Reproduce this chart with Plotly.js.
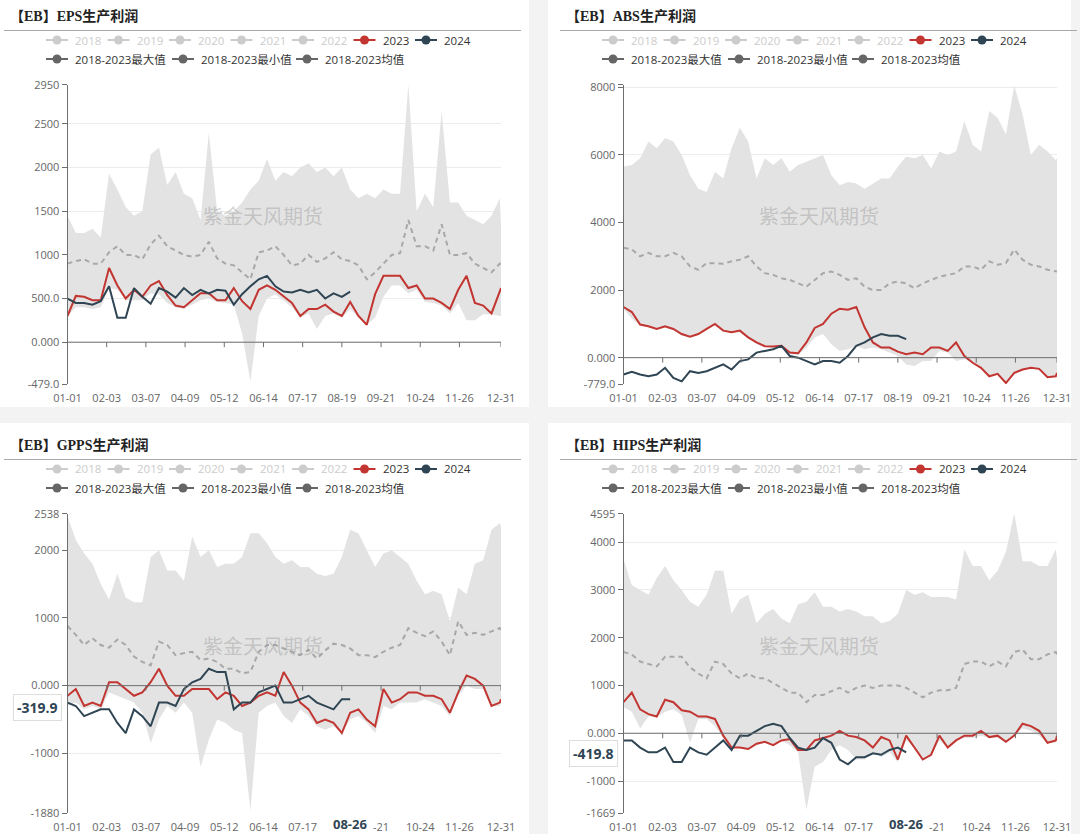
<!DOCTYPE html>
<html><head><meta charset="utf-8">
<script src="https://cdn.plot.ly/plotly-3.0.1.min.js"></script>
<style>html,body{margin:0;padding:0;background:#f3f3f3;}#chart{width:1080px;height:834px;}</style>
</head><body><div id="chart"></div>
<script>
// ---------- categories ----------
const dates = ['01-01','01-08','01-15','01-22','01-29','02-05','02-12','02-19','02-26','03-04',
 '03-11','03-18','03-25','04-01','04-08','04-15','04-22','04-29','05-06','05-13',
 '05-20','05-27','06-03','06-10','06-17','06-24','07-01','07-08','07-15','07-22',
 '07-29','08-05','08-12','08-19','08-26','09-02','09-09','09-16','09-23','09-30',
 '10-07','10-14','10-21','10-28','11-04','11-11','11-18','11-25','12-02','12-09',
 '12-16','12-23','12-30','12-31'];
const tickDates = ['01-01','02-03','03-07','04-09','05-12','06-14','07-17','08-19','09-21','10-24','11-26','12-31'];
// bottom panels: the 08-26 pointer label hides 08-19 and the start of 09-21
const tickTextTop = ['01-01','02-03','03-07','04-09','05-12','06-14','07-17','08-19','09-21','10-24','11-26','12-31'];
const tickTextBottom = ['01-01','02-03','03-07','04-09','05-12','06-14','07-17','','-21','10-24','11-26','12-31'];
const panelTitles = ['【EB】EPS生产利润','【EB】ABS生产利润','【EB】GPPS生产利润','【EB】HIPS生产利润'];
const legendYears = ['2018','2019','2020','2021','2022','2023','2024'];
const legendStats = ['2018-2023最大值','2018-2023最小值','2018-2023均值'];
const watermark = '紫金天风期货';
const pointerDate = '08-26';
const gppsPointer = -319.9;
const hipsPointer = -419.8;

// ---------- EPS ----------
const epsMax = [1450,1250,1250,1300,1200,1930,1750,1550,1450,1500,
 2150,2230,1800,1950,1700,1650,1400,2400,1500,1450,
 1500,1600,1750,1850,2100,1850,1950,1900,2000,2050,
 1950,2000,1900,2000,1750,1650,1700,1650,1750,1700,
 1700,2950,1500,1700,1550,2650,1600,1600,1450,1400,
 1350,1450,1650,1350];
const epsMin = [300,400,400,380,400,620,600,480,480,480,
 560,550,450,400,380,430,480,500,460,450,
 430,100,-450,300,500,550,480,400,280,330,
 150,300,330,280,380,280,200,280,520,650,
 650,560,600,460,450,420,330,450,250,250,
 320,320,300,300];
const epsMean = [900,930,950,900,900,1030,1100,1000,1000,950,
 1120,1220,1100,1050,1000,980,1000,1150,960,900,
 880,800,720,1030,1050,1100,1000,880,900,1000,
 920,960,1030,950,930,880,720,800,900,1000,
 1020,1400,1100,1100,1050,1350,1000,1000,1020,900,
 850,800,900,880];
const eps2023 = [300,530,520,480,480,850,650,500,600,520,
 650,700,540,420,400,480,560,560,480,480,
 620,470,380,600,650,600,520,450,300,380,
 380,430,350,300,460,300,200,550,760,760,
 760,620,650,500,500,450,380,600,760,450,
 420,330,600,620];
const eps2024 = [500,450,450,430,470,640,280,280,620,520,
 440,620,580,510,620,540,600,560,600,590,
 430,550,640,720,760,640,580,570,600,570,
 600,500,560,520,580];
const epsRange = [-479, 2950];
const epsTickVals = [-479, 0, 500, 1000, 1500, 2000, 2500, 2950];
const epsTickText = ['-479.0','0.000','500.0','1000','1500','2000','2500','2950'];

// ---------- ABS ----------
const absMax = [5650,5700,5900,6400,6200,6500,6400,6000,5400,5000,
 4900,5500,5300,6200,6800,6400,5300,5900,5700,5900,
 5500,5700,5800,5900,6000,5400,5100,5200,5150,5000,
 5150,5300,5300,5650,5950,5900,6000,5600,6100,6000,
 6100,7000,6300,6100,7300,7100,6600,8050,7200,6000,
 6300,6100,5850,5900];
const absMin = [1450,1150,950,900,830,880,820,650,600,680,
 820,950,780,730,750,560,400,320,300,300,
 100,80,300,600,700,400,200,250,350,250,
 300,250,150,50,-200,-250,-100,-100,200,150,
 -100,-50,-150,-300,-550,-500,-750,-500,-380,-320,
 -350,-600,-560,-480];
const absMean = [3250,3200,3000,3100,3000,3000,3100,3000,2700,2600,
 2800,2800,2780,2850,2900,3000,2700,2500,2450,2350,
 2300,2200,2100,2300,2500,2550,2450,2300,2350,2100,
 2000,2000,2200,2250,2200,2050,2200,2300,2400,2450,
 2500,2700,2700,2600,2850,2750,2800,3200,2900,2750,
 2700,2600,2550,2550];
const abs2023 = [1500,1350,980,930,850,930,850,700,620,700,
 850,1000,800,750,800,600,450,340,330,350,
 150,130,450,880,1000,1300,1450,1420,1500,900,
 450,300,300,180,100,150,100,300,300,200,
 450,50,-150,-300,-550,-480,-750,-450,-350,-300,
 -330,-580,-550,-450];
const abs2024 = [-500,-420,-500,-550,-500,-300,-600,-700,-400,-450,
 -400,-300,-200,-350,-100,-50,150,200,250,350,
 50,0,-100,-200,-100,-100,-150,50,350,450,
 600,700,650,650,550];
const absRange = [-779, 8077];
const absTickVals = [-779, 0, 2000, 4000, 6000, 8000, 8077];
const absTickText = ['-779.0','0.000','2000','4000','6000','8000',''];

// ---------- GPPS ----------
const gppsMax = [2500,2150,1950,1800,1500,1270,1650,1300,1230,1230,
 1900,2000,1700,1700,1550,2200,1900,2000,1750,1800,
 1800,1900,2250,2250,2100,1900,1800,1850,1750,1750,
 1650,1620,1650,1900,2300,2250,2000,1750,1950,2000,
 1900,1800,1550,1350,1400,1350,950,1450,1350,1800,
 1850,2300,2400,2350];
const gppsMin = [-300,-250,-350,-300,-350,-100,-150,-200,-250,-400,
 -850,-500,-300,-400,-250,-400,-1200,-800,-500,-550,
 -650,-700,-1850,-400,-300,-250,-450,-550,-350,-450,
 -600,-650,-600,-700,-500,-450,-550,-700,-300,-350,
 -250,-250,-250,-200,-250,-300,-450,-150,0,-50,
 -50,-300,-300,-250];
const gppsMean = [880,750,600,700,600,560,680,600,430,350,
 300,650,600,450,480,500,380,400,350,250,
 250,180,200,500,600,600,550,500,450,530,
 400,520,620,600,550,450,450,420,500,560,
 600,850,780,730,800,650,450,950,750,780,
 750,800,850,820];
const gpps2023 = [-150,-50,-300,-250,-300,50,50,-50,-150,-100,
 50,250,0,-150,-150,-50,-50,-50,-200,-100,
 -150,-300,-250,-150,-100,-150,200,0,-250,-350,
 -550,-500,-550,-700,-400,-350,-500,-600,-50,-250,
 -200,-100,-100,-150,-150,-200,-400,-100,150,100,
 0,-300,-250,-200];
const gpps2024 = [-250,-300,-450,-400,-350,-350,-550,-700,-350,-450,
 -600,-250,-250,-300,-50,50,100,250,200,200,
 -350,-250,-250,-100,-50,0,-250,-250,-200,-150,
 -250,-300,-350,-200,-200];
const gppsRange = [-1880, 2538];
const gppsTickVals = [-1880, -1000, 0, 1000, 2000, 2538];
const gppsTickText = ['-1880','-1000','0.000','1000','2000','2538'];

// ---------- HIPS ----------
const hipsMax = [3650,3100,3000,2900,3250,3500,3200,3000,2750,2650,
 2900,3400,3400,2500,2800,2900,2300,2500,2600,2400,
 2300,2700,2750,2950,2650,2650,2550,2600,2550,2450,
 2450,2300,2350,2500,3000,2900,2950,2850,2850,2850,
 2800,3850,3500,3500,3200,3400,3800,4600,3600,3600,
 3500,3500,3850,3650];
const hipsMin = [550,450,100,350,330,450,500,380,-200,300,
 300,150,-100,-300,-300,-350,-250,-200,-250,-150,
 -250,-400,-1600,-700,-600,-350,-250,-350,-550,-550,
 -400,-500,-400,-600,-150,-300,-550,-450,-150,-300,
 -150,-100,-100,-50,-100,-100,-200,-50,100,50,
 -50,-200,-200,-50];
const hipsMean = [1700,1650,1500,1450,1400,1600,1600,1600,1380,1250,
 1150,1500,1450,1250,1150,1250,1150,1150,1050,950,
 850,850,650,800,800,880,950,850,950,1000,
 950,1000,1000,1000,950,850,750,850,900,900,
 950,1450,1500,1500,1400,1500,1400,1700,1750,1550,
 1550,1650,1700,1650];
const hips2023 = [650,850,500,400,350,700,650,480,450,350,
 350,300,-50,-300,-300,-330,-220,-180,-250,-150,
 -120,-350,-350,-150,-100,-50,50,-50,-80,-150,
 -300,-80,-150,-550,-50,-300,-550,-450,-50,-300,
 -150,-50,-50,50,-80,-50,-180,-50,200,150,
 50,-200,-150,-50];
const hips2024 = [-150,-150,-300,-400,-400,-300,-600,-600,-300,-400,
 -450,-300,-150,-350,-50,-50,50,150,200,150,
 -100,-300,-350,-300,-100,-200,-550,-650,-500,-500,
 -420,-450,-350,-300,-400];
const hipsRange = [-1669, 4595];
const hipsTickVals = [-1669, -1000, 0, 1000, 2000, 3000, 4000, 4595];
const hipsTickText = ['-1669','-1000','0.000','1000','2000','3000','4000','4595'];

// ---------- build ----------
const W = 1080, H = 834;
const fx = p => p / W;
const fy = p => 1 - p / H;
const YEAR = '2024-';
const xs = dates.map(d => YEAR + d);
const tickX = tickDates.map(d => YEAR + d);

const C_RED = '#c23531', C_BLUE = '#2f4554', C_BAND = '#e3e3e3', C_MEAN = '#a8a8a8';
const AXIS = '#6e6e6e';
const FONT = "'Open Sans', 'Noto Sans CJK SC', sans-serif";

const panels = [
  {title: panelTitles[0], mx: epsMax, mn: epsMin, mean: epsMean, y23: eps2023, y24: eps2024, range: epsRange, tv: epsTickVals, tt: epsTickText, xt: tickTextTop, dx: 0, dy: 0, pointer: null, rect: [0, 0, 529, 407]},
  {title: panelTitles[1], mx: absMax, mn: absMin, mean: absMean, y23: abs2023, y24: abs2024, range: absRange, tv: absTickVals, tt: absTickText, xt: tickTextTop, dx: 556, dy: 0, pointer: null, rect: [548, 0, 1071, 407]},
  {title: panelTitles[2], mx: gppsMax, mn: gppsMin, mean: gppsMean, y23: gpps2023, y24: gpps2024, range: gppsRange, tv: gppsTickVals, tt: gppsTickText, xt: tickTextBottom, dx: 0, dy: 429, pointer: gppsPointer, rect: [0, 423, 529, 834]},
  {title: panelTitles[3], mx: hipsMax, mn: hipsMin, mean: hipsMean, y23: hips2023, y24: hips2024, range: hipsRange, tv: hipsTickVals, tt: hipsTickText, xt: tickTextBottom, dx: 556, dy: 429, pointer: hipsPointer, rect: [548, 423, 1071, 834]}
];

const traces = [], shapes = [], annotations = [];
const layout = {
  width: W, height: H, margin: {l: 0, r: 0, t: 0, b: 0},
  paper_bgcolor: '#f3f3f3', plot_bgcolor: 'rgba(0,0,0,0)',
  showlegend: false, font: {family: FONT, size: 11, color: '#666'},
  shapes, annotations
};

panels.forEach((p, i) => {
  const sfx = i === 0 ? '' : String(i + 1);
  const xa = 'x' + sfx, ya = 'y' + sfx;
  const {dx, dy} = p;

  // white panel background
  shapes.push({type: 'rect', xref: 'paper', yref: 'paper', layer: 'below',
    x0: fx(p.rect[0]), x1: fx(p.rect[2]), y0: fy(p.rect[3]), y1: fy(p.rect[1]),
    fillcolor: '#ffffff', line: {width: 0}});
  // title underline
  shapes.push({type: 'line', xref: 'paper', yref: 'paper',
    x0: fx(4 + dx), x1: fx(521 + dx), y0: fy(30.5 + dy), y1: fy(30.5 + dy),
    line: {color: '#a9a9a9', width: 1}});

  // band: min (invisible) then max filled to it
  traces.push({x: xs, y: p.mn, xaxis: xa, yaxis: ya, type: 'scatter', mode: 'lines',
    line: {width: 0, color: 'rgba(0,0,0,0)'}, hoverinfo: 'skip'});
  traces.push({x: xs, y: p.mx, xaxis: xa, yaxis: ya, type: 'scatter', mode: 'lines',
    line: {width: 0, color: 'rgba(0,0,0,0)'}, fill: 'tonexty', fillcolor: C_BAND, hoverinfo: 'skip'});
  traces.push({x: xs, y: p.mean, xaxis: xa, yaxis: ya, type: 'scatter', mode: 'lines',
    line: {width: 2, color: C_MEAN, dash: '5px,4px'}, hoverinfo: 'skip'});
  traces.push({x: xs, y: p.y23, xaxis: xa, yaxis: ya, type: 'scatter', mode: 'lines',
    line: {width: 2, color: C_RED}, hoverinfo: 'skip'});
  traces.push({x: xs.slice(0, p.y24.length), y: p.y24, xaxis: xa, yaxis: ya, type: 'scatter', mode: 'lines',
    line: {width: 2, color: C_BLUE}, hoverinfo: 'skip'});

  layout['xaxis' + sfx] = {
    domain: [fx(67.5 + dx), fx(501 + dx)], anchor: ya, type: 'date',
    range: [tickX[0], tickX[tickX.length - 1]],
    tickmode: 'array', tickvals: tickX, ticktext: p.xt,
    showgrid: false, zeroline: false, showline: false,
    ticks: 'outside', ticklen: 4, tickcolor: 'rgba(0,0,0,0)',
    tickfont: {size: 11, color: '#666', family: FONT}, fixedrange: true
  };
  layout['yaxis' + sfx] = {
    domain: [fy(384 + dy), fy(84.7 + dy)], anchor: xa, range: p.range,
    tickmode: 'array', tickvals: p.tv, ticktext: p.tt,
    showgrid: true, gridcolor: '#ececec', gridwidth: 1, zeroline: false,
    showline: true, linecolor: AXIS, linewidth: 1,
    ticks: 'outside', ticklen: 5, tickcolor: AXIS,
    tickfont: {size: 11, color: '#666', family: FONT}, fixedrange: true
  };

  // x axis line at zero with downward ticks
  shapes.push({type: 'line', xref: xa + ' domain', yref: ya, x0: 0, x1: 1, y0: 0, y1: 0,
    line: {color: AXIS, width: 1}});
  tickX.forEach(t => shapes.push({type: 'line', xref: xa, yref: ya, x0: t, x1: t,
    ysizemode: 'pixel', yanchor: 0, y0: 0, y1: -5, line: {color: AXIS, width: 1}}));

  // title
  annotations.push({xref: 'paper', yref: 'paper', x: fx(8 + dx), y: fy(16 + dy),
    xanchor: 'left', yanchor: 'middle', showarrow: false,
    text: '<b>' + p.title + '</b>',
    font: {family: "'Liberation Serif', 'Noto Sans CJK SC', serif", size: 14, color: '#222'}});

  // watermark
  annotations.push({xref: 'paper', yref: 'paper', x: fx(263 + dx), y: fy(216 + dy),
    xanchor: 'center', yanchor: 'middle', showarrow: false, text: watermark,
    font: {family: "'Noto Sans CJK SC', sans-serif", size: 20, color: 'rgba(150,150,150,0.42)'}});

  // legend row 1 (years)
  legendYears.forEach((lab, k) => {
    const cx = 57 + k * 61.5 + dx, cy = 40 + dy;
    const active = k >= 5;
    const col = k === 5 ? C_RED : (k === 6 ? C_BLUE : '#cccccc');
    shapes.push({type: 'line', xref: 'paper', yref: 'paper', x0: fx(cx - 11), x1: fx(cx + 11),
      y0: fy(cy), y1: fy(cy), line: {color: col, width: 2}});
    shapes.push({type: 'circle', xref: 'paper', yref: 'paper', x0: fx(cx - 4.5), x1: fx(cx + 4.5),
      y0: fy(cy + 4.5), y1: fy(cy - 4.5), fillcolor: col, line: {width: 0}});
    annotations.push({xref: 'paper', yref: 'paper', x: fx(cx + 16), y: fy(cy), xanchor: 'left', yanchor: 'middle',
      showarrow: false, text: lab, font: {size: 11.5, color: active ? '#333' : '#cccccc', family: FONT}});
  });
  // legend row 2 (stats)
  const row2x = [57, 183, 307];
  legendStats.forEach((lab, k) => {
    const cx = row2x[k] + dx, cy = 59 + dy;
    shapes.push({type: 'line', xref: 'paper', yref: 'paper', x0: fx(cx - 11), x1: fx(cx + 11),
      y0: fy(cy), y1: fy(cy), line: {color: '#666', width: 2}});
    shapes.push({type: 'circle', xref: 'paper', yref: 'paper', x0: fx(cx - 4.5), x1: fx(cx + 4.5),
      y0: fy(cy + 4.5), y1: fy(cy - 4.5), fillcolor: '#666', line: {width: 0}});
    annotations.push({xref: 'paper', yref: 'paper', x: fx(cx + 16), y: fy(cy), xanchor: 'left', yanchor: 'middle',
      showarrow: false, text: lab, font: {size: 11.5, color: '#333', family: FONT}});
  });

  // axis pointer labels (bottom panels)
  if (p.pointer !== null) {
    annotations.push({xref: xa, yref: 'paper', x: YEAR + pointerDate, y: fy(395 + dy),
      xanchor: 'center', yanchor: 'middle', showarrow: false, text: '<b>' + pointerDate + '</b>',
      borderpad: 0, font: {size: 13, color: C_BLUE, family: FONT}});
    annotations.push({xref: 'paper', yref: ya, x: fx(62 + dx), y: p.pointer,
      xanchor: 'right', yanchor: 'middle', showarrow: false, text: '<b>' + p.pointer.toFixed(1) + '</b>',
      bgcolor: '#ffffff', bordercolor: '#dddddd', borderwidth: 1, borderpad: 3,
      font: {size: 14, color: C_BLUE, family: FONT}});
  }
});

Plotly.newPlot('chart', traces, layout, {displayModeBar: false, staticPlot: true});
</script>
</body></html>
